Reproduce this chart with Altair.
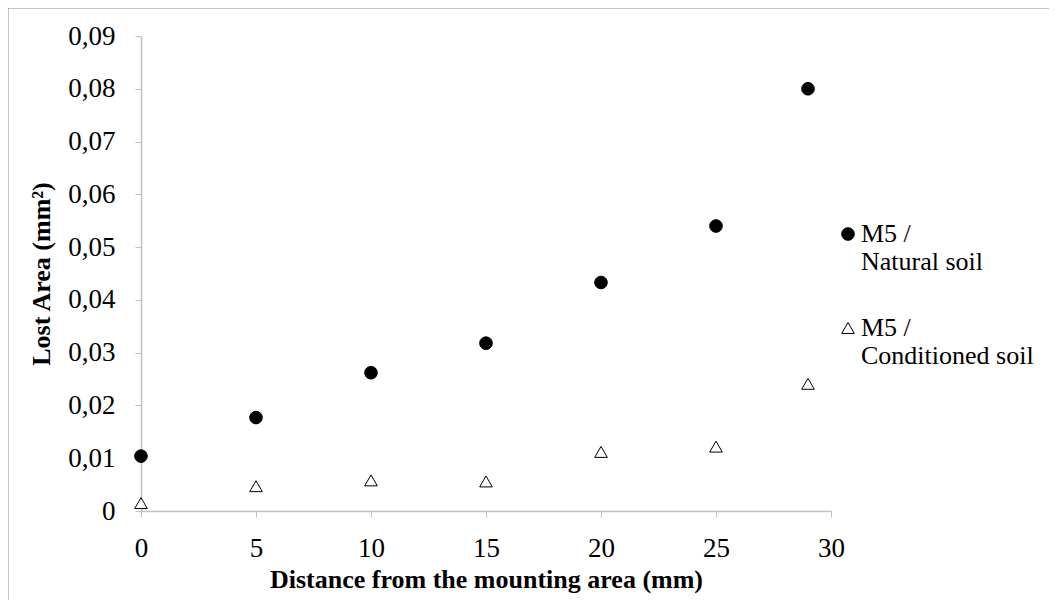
import altair as alt
import pandas as pd

distance = [0, 5, 10, 15, 20, 25, 29]
natural = [0.0104, 0.0177, 0.0262, 0.0318, 0.0433, 0.0540, 0.0800]
conditioned = [0.0015, 0.0047, 0.0058, 0.0056, 0.0112, 0.0122, 0.0241]
series_names = ["M5 /|Natural soil", "M5 /|Conditioned soil"]
x_ticks = [0, 5, 10, 15, 20, 25, 30]
y_ticks = [0, 0.01, 0.02, 0.03, 0.04, 0.05, 0.06, 0.07, 0.08, 0.09]

rows = []
for d, v in zip(distance, natural):
    rows.append({"distance": d, "area": v, "series": series_names[0]})
for d, v in zip(distance, conditioned):
    rows.append({"distance": d, "area": v, "series": series_names[1]})
df = pd.DataFrame(rows)

FONT = "Liberation Serif"

points = alt.Chart(df).mark_point(filled=False, strokeWidth=1, opacity=1, size=160).encode(
    x=alt.X("distance:Q",
            scale=alt.Scale(domain=[0, 30], nice=False, zero=True),
            axis=alt.Axis(values=x_ticks, title="Distance from the mounting area (mm)",
                          labelPadding=18, titlePadding=5, grid=False, labelFlush=False)),
    y=alt.Y("area:Q",
            scale=alt.Scale(domain=[0, 0.09], nice=False),
            axis=alt.Axis(values=y_ticks, title="Lost Area (mm²)", grid=False,
                          labelExpr="datum.value == 0 ? '0' : replace(format(datum.value, '.2f'), '.', ',')",
                          labelPadding=20, titlePadding=13, labelFlush=False)),
    shape=alt.Shape("series:N",
                    scale=alt.Scale(domain=series_names, range=["circle", "triangle-up"]),
                    legend=alt.Legend(title=None, orient="none", legendX=694, legendY=185,
                                      labelExpr="split(datum.label, '|')",
                                      labelFont=FONT, labelFontSize=26, labelColor="#000000",
                                      labelLimit=400, rowPadding=40, symbolStrokeWidth=1,
                                      symbolSize=160, labelOffset=0, direction="vertical")),
    fill=alt.Fill("series:N",
                  scale=alt.Scale(domain=series_names, range=["#000000", "#ffffff"])),
    stroke=alt.value("#000000"),
)

border = alt.Chart(pd.DataFrame({"a": [0]})).mark_rect(
    fill=None, stroke="#8c8c8c", strokeWidth=1
).encode(
    x=alt.value(-133), x2=alt.value(1000), y=alt.value(-28), y2=alt.value(700)
)

chart = alt.layer(border, points).properties(
    width=690, height=475,
    padding={"left": 133, "top": 28, "right": 218, "bottom": 89},
    autosize=alt.AutoSizeParams(type="none"),
    background="#ffffff",
).configure_axis(
    domainColor="#bfbfbf", domainWidth=1.5, tickColor="#bfbfbf", tickSize=6,
    labelFont=FONT, labelFontSize=27, labelColor="#000000",
    titleFont=FONT, titleFontSize=26, titleFontWeight="bold", titleColor="#000000",
).configure_view(stroke=None)

chart.save("out.html", embed_options={"renderer": "svg", "actions": False})
